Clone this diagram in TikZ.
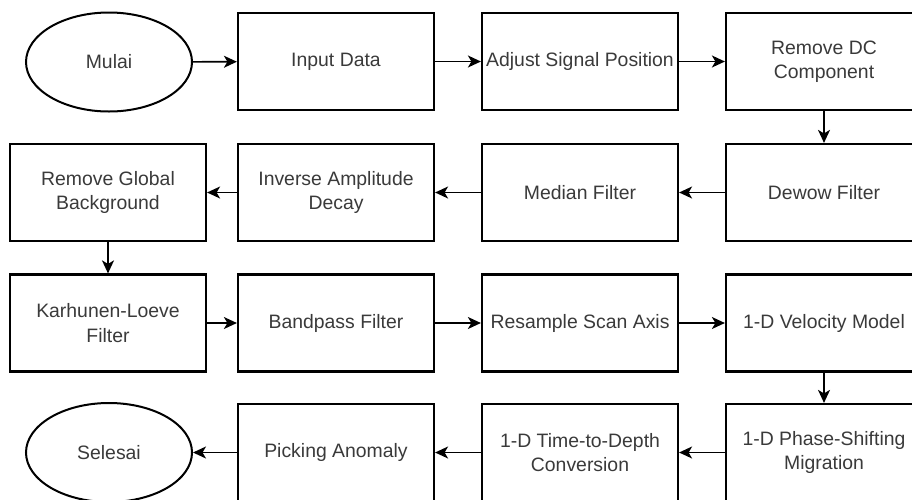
\documentclass[tikz,border=0pt]{standalone}
\usepackage{fontspec}
\setmainfont{Liberation Sans}
\usetikzlibrary{arrows.meta,shapes.geometric}
\definecolor{txt}{HTML}{3A3A3A}
\tikzset{
  x=1pt, y=-1pt,
  proc/.style={draw=black, line width=2.2pt, fill=white, minimum width=196pt, minimum height=97pt,
    inner sep=0pt, align=center, text=txt, font=\fontsize{19.4}{24.5}\selectfont},
  term/.style={draw=black, line width=2pt, fill=white, ellipse, minimum width=166pt, minimum height=99pt,
    inner sep=0pt, align=center, text=txt, font=\fontsize{19.4}{24.5}\selectfont},
  conn/.style={line width=1.6pt, -{Stealth[length=13pt,width=12pt,inset=3.5pt]}},
}
\begin{document}
\begin{tikzpicture}
\useasboundingbox (0,0) rectangle (912,499);
\clip (0,0) rectangle (912,499);
% row 1
\node[term] (mulai) at (109,62) {Mulai};
\node[proc] (input) at (336,61.5) {Input Data};
\node[proc] (adjust) at (580,61.5) {Adjust Signal Position};
\node[proc] (dc) at (824,61.5) {Remove DC\\Component};
% row 2
\node[proc] (global) at (108,192.5) {Remove Global\\Background};
\node[proc] (inverse) at (336,192.5) {Inverse Amplitude\\Decay};
\node[proc] (median) at (580,192.5) {Median Filter};
\node[proc] (dewow) at (824,192.5) {Dewow Filter};
% row 3
\node[proc] (kl) at (108,323) {Karhunen-Loeve\\Filter};
\node[proc] (band) at (336,323) {Bandpass Filter};
\node[proc] (resample) at (580,323) {Resample Scan Axis};
\node[proc] (vel) at (824,323) {1-D Velocity Model};
% row 4
\node[term] (selesai) at (109,452.5) {Selesai};
\node[proc] (pick) at (336,452.5) {Picking Anomaly};
\node[proc] (ttd) at (580,452.5) {1-D Time-to-Depth\\Conversion};
\node[proc] (phase) at (824,452.5) {1-D Phase-Shifting\\Migration};
% connectors
\draw[conn] (mulai) -- (input);
\draw[conn] (input) -- (adjust);
\draw[conn] (adjust) -- (dc);
\draw[conn] (dc) -- (dewow);
\draw[conn] (dewow) -- (median);
\draw[conn] (median) -- (inverse);
\draw[conn] (inverse) -- (global);
\draw[conn] (global) -- (kl);
\draw[conn] (kl) -- (band);
\draw[conn] (band) -- (resample);
\draw[conn] (resample) -- (vel);
\draw[conn] (vel) -- (phase);
\draw[conn] (phase) -- (ttd);
\draw[conn] (ttd) -- (pick);
\draw[conn] (pick) -- (selesai);
\end{tikzpicture}
\end{document}
